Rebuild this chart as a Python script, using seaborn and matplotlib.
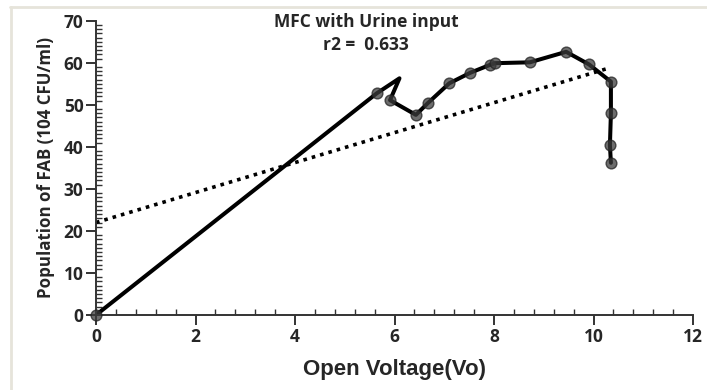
import numpy as np
import pandas as pd
import matplotlib.pyplot as plt
import seaborn as sns
from matplotlib.lines import Line2D
from matplotlib.ticker import MultipleLocator

# Data
voltage = [0.0, 5.64, 6.10, 5.91, 6.43, 6.67, 7.10, 7.52, 7.92, 8.03, 8.72,
           9.45, 9.91, 10.35, 10.35, 10.33, 10.35]
population = [0.0, 52.7, 56.3, 51.1, 47.6, 50.4, 55.1, 57.6, 59.5, 59.9, 60.1,
              62.6, 59.6, 55.5, 48.0, 40.4, 36.2]
has_marker = [True, True, False, True, True, True, True, True, True, True, True,
              True, True, True, True, True, True]

fit_x = [0.0, 10.3]
fit_y = [22.0, 58.7]

df = pd.DataFrame({'v': voltage, 'p': population, 'm': has_marker})
fit = pd.DataFrame({'v': fit_x, 'p': fit_y})

sns.set_style('white')
plt.rcParams['font.family'] = ['Open Sans', 'DejaVu Sans']

fig = plt.figure(figsize=(7.07, 3.9), dpi=100)
ax = fig.add_axes([96 / 707, 1 - 315 / 390, (693 - 96) / 707, (315 - 20.7) / 390])

# regression line
sns.lineplot(x='v', y='p', data=fit, ax=ax, color='black', linestyle=(0, (1, 1.4)),
             linewidth=2.6, sort=False)
# data path
sns.lineplot(x='v', y='p', data=df, ax=ax, color='black', linewidth=2.9, sort=False,
             estimator=None)
sns.scatterplot(x='v', y='p', data=df[df['m']], ax=ax, s=60, color='#3c3c3c',
                alpha=0.75, edgecolor='#222222', linewidth=1.0, zorder=5, clip_on=False)

ax.set_xlim(0, 12)
ax.set_ylim(0, 70)
ax.xaxis.set_major_locator(MultipleLocator(2))
ax.xaxis.set_minor_locator(MultipleLocator(0.4))
ax.yaxis.set_major_locator(MultipleLocator(10))
ax.yaxis.set_minor_locator(MultipleLocator(1))

for s in ['top', 'right']:
    ax.spines[s].set_visible(False)
for s in ['left', 'bottom']:
    ax.spines[s].set_color('#333333')
    ax.spines[s].set_linewidth(1.4)

ax.tick_params(which='both', bottom=True, left=True)
ax.tick_params(which='major', direction='out', length=7, width=1.4, color='#333333',
               labelsize=12.5, pad=2)
ax.tick_params(which='minor', direction='in', length=4.5, width=1.0, color='#333333')
for lab in ax.get_xticklabels() + ax.get_yticklabels():
    lab.set_fontweight('bold')

ax.set_xlabel('Open Voltage(Vo)', fontsize=16, fontweight='bold',
              family=['Liberation Sans', 'DejaVu Sans'], labelpad=10)
ax.set_ylabel('Population of FAB (104 CFU/ml)', fontsize=12.2, fontweight='bold',
              labelpad=6)

fig.text(366 / 707, 1 - 22 / 390, 'MFC with Urine input', ha='center', va='center',
         fontsize=12.5, fontweight='bold')
fig.text(366 / 707, 1 - 45 / 390, 'r2 =  0.633', ha='center', va='center',
         fontsize=12.5, fontweight='bold')

# light frame of the original panel
fig.add_artist(Line2D([10 / 707, 1], [1 - 7 / 390, 1 - 7 / 390], color='#e6e4da',
                      linewidth=2, transform=fig.transFigure))
fig.add_artist(Line2D([11 / 707, 11 / 707], [0, 1 - 7 / 390], color='#e6e4da',
                      linewidth=2, transform=fig.transFigure))

fig.savefig('out.png', dpi=100)
